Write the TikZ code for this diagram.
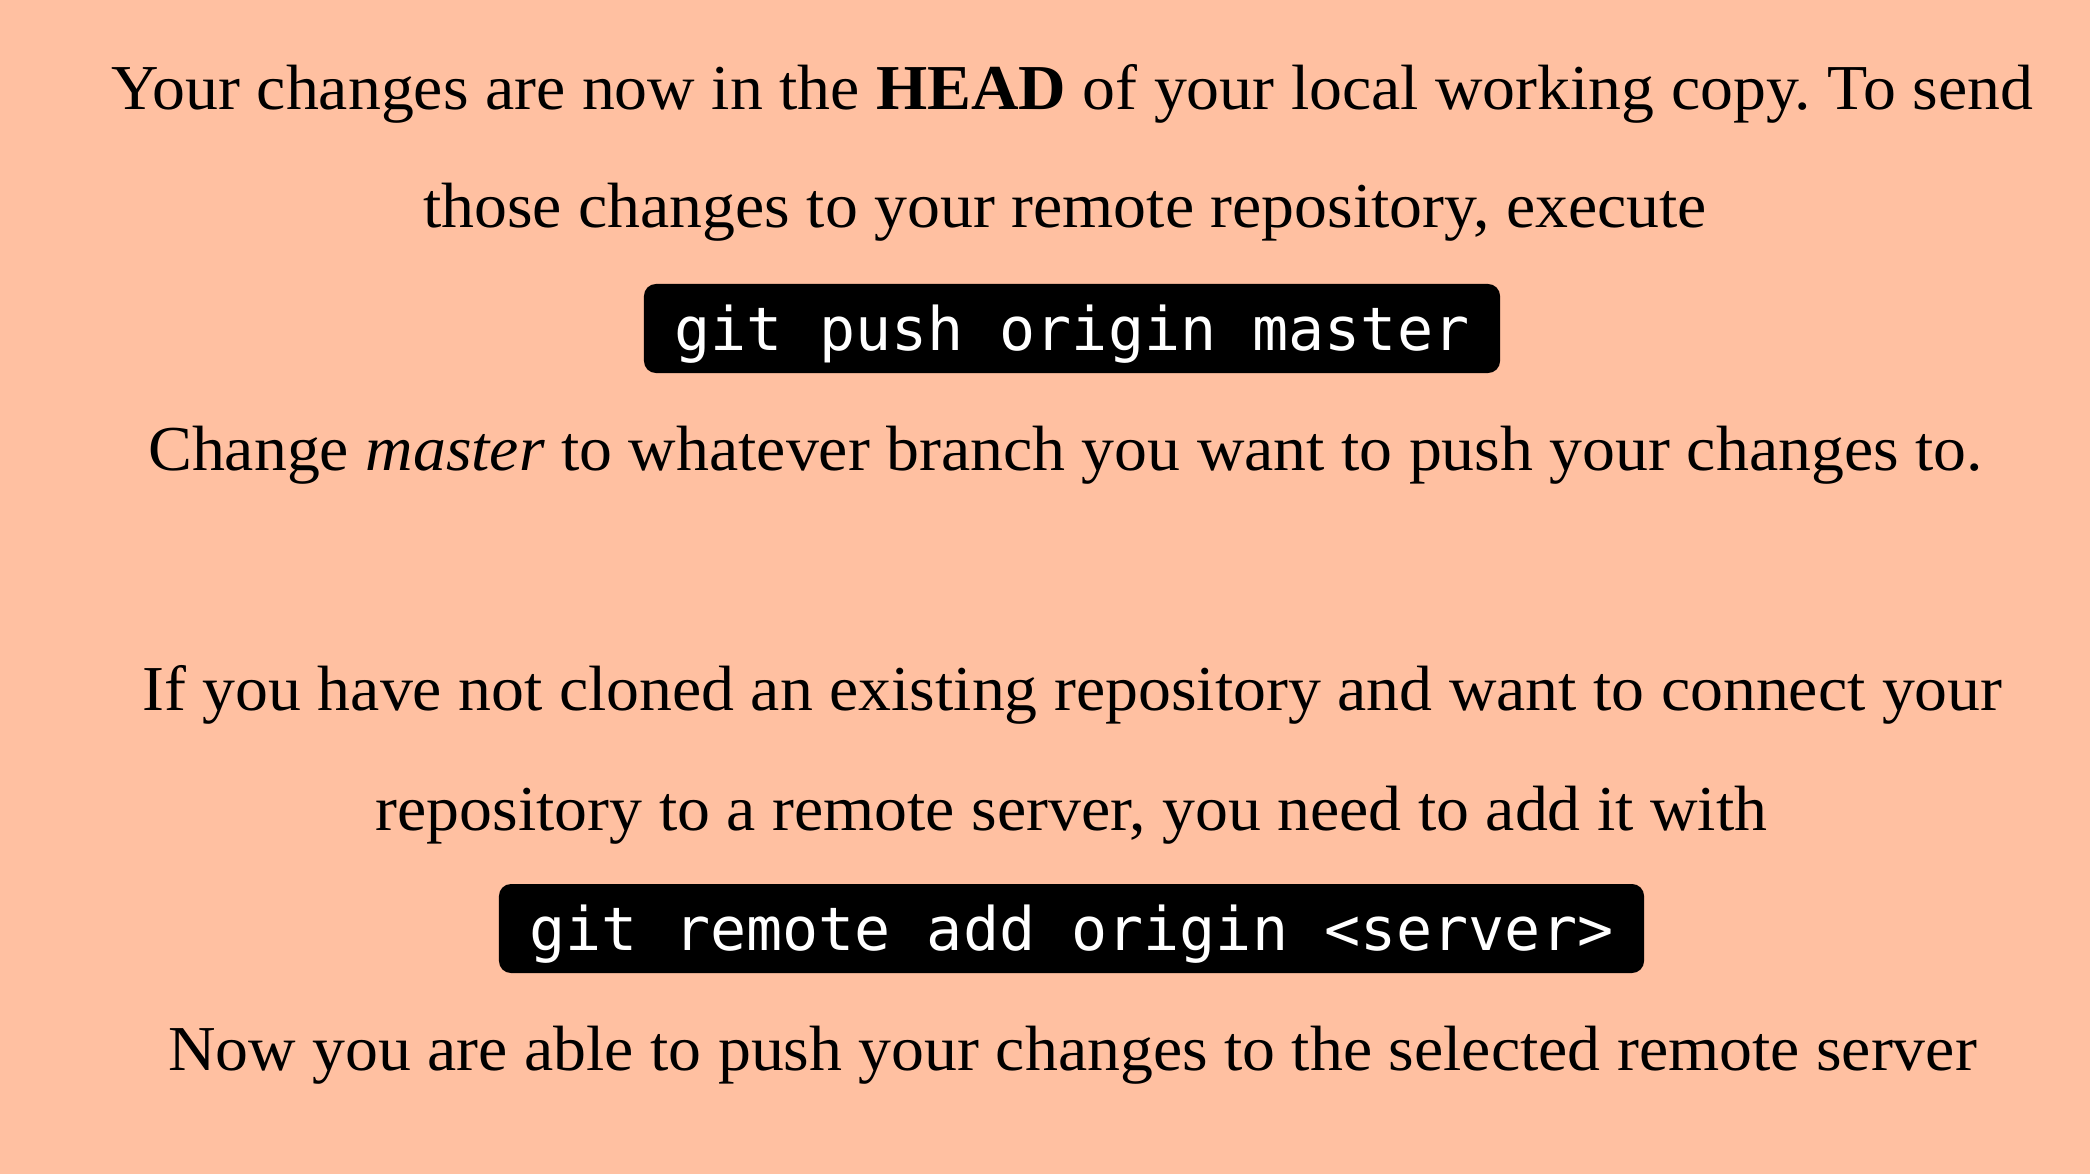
\documentclass[tikz,border=0pt]{standalone}
\usepackage{fontspec}
\setmainfont[FakeStretch=1.028]{Liberation Serif}
\setmonofont{DejaVu Sans Mono}
\frenchspacing
\definecolor{peach}{RGB}{255,192,161}
\tikzset{
  txt/.style={anchor=base, inner sep=0pt, font=\fontsize{64}{70}\selectfont, text=black},
  cmd/.style={anchor=base, fill=black, rounded corners=12pt, inner xsep=30.7pt, inner ysep=0pt,
    text height=66pt, text depth=23pt, text=white, font=\ttfamily\fontsize{60}{66}\selectfont}
}
\begin{document}
\begin{tikzpicture}[x=1pt,y=-1pt]
\fill[peach] (0,0) rectangle (2090,1174);
\useasboundingbox (0,0) rectangle (2090,1174);
\node[txt] (l1) at (1072.5,110) {Your changes are now in the \textbf{HEAD} of your local working copy. To send};
\node[txt] (l2) at (1065,228) {those changes to your remote repository, execute};
\node[cmd] (c1) at (1072,350) {git push origin master};
\node[txt] (l3) at (1065.5,470) {Change \textit{master} to whatever branch you want to push your changes to.};
\node[txt] (l4) at (1072.5,710) {If you have not cloned an existing repository and want to connect your};
\node[txt] (l5) at (1071.5,830) {repository to a remote server, you need to add it with};
\node[cmd] (c2) at (1071.5,950) {git remote add origin <server>};
\node[txt] (l6) at (1072.5,1070) {Now you are able to push your changes to the selected remote server};
\end{tikzpicture}
\end{document}
